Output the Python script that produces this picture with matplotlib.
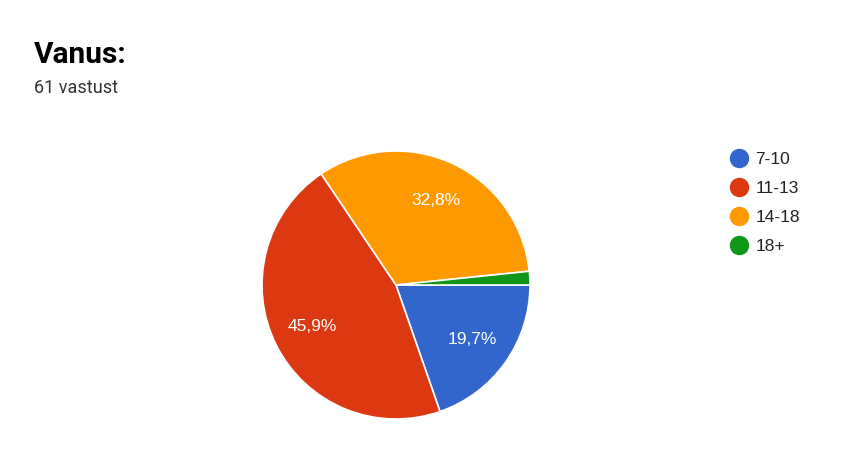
import matplotlib.pyplot as plt
from matplotlib.lines import Line2D

plt.rcParams['font.family'] = ['Roboto', 'DejaVu Sans']

labels = ['7-10', '11-13', '14-18', '18+']
counts = [12, 28, 20, 1]
colors = ['#3366cc', '#dc3912', '#ff9900', '#109618']

W, H = 842, 468
fig = plt.figure(figsize=(W / 100, H / 100), dpi=100)

# pie area: center (396, 285) px, radius 134 px
cx, cy, r = 396, 285, 134
ax = fig.add_axes([(cx - r) / W, (H - cy - r) / H, 2 * r / W, 2 * r / H])


def pct_label(p):
    if p < 5:
        return ''
    return f'{p:.1f}%'.replace('.', ',')


wedges, texts, autotexts = ax.pie(
    counts, colors=colors, startangle=0, counterclock=False,
    autopct=pct_label, pctdistance=0.7,
    wedgeprops=dict(edgecolor='white', linewidth=1.2),
    textprops=dict(color='white', fontsize=12.5,
                   family=['Liberation Sans', 'DejaVu Sans']))
ax.set_xlim(-1, 1)
ax.set_ylim(-1, 1)
ax.set_aspect('equal')

fig.text(34 / W, 1 - 55 / H, 'Vanus:', fontsize=21.5, fontweight='bold',
         color='black', va='center', ha='left')
fig.text(34 / W, 1 - 88 / H, '61 vastust', fontsize=13,
         color='#333333', va='center', ha='left')

handles = [Line2D([], [], marker='o', linestyle='', markersize=13,
                  markerfacecolor=c, markeredgecolor=c) for c in colors]
fig.legend(handles, labels, loc='upper left',
           bbox_to_anchor=(730 / W, 1 - 152 / H), frameon=False,
           prop=dict(family=['Liberation Sans', 'DejaVu Sans'], size=12.5),
           handlelength=1.0, handletextpad=0.45,
           labelspacing=0.8, borderpad=0, borderaxespad=0,
           labelcolor='#222222')

fig.savefig('out.png', dpi=100, facecolor='white')
